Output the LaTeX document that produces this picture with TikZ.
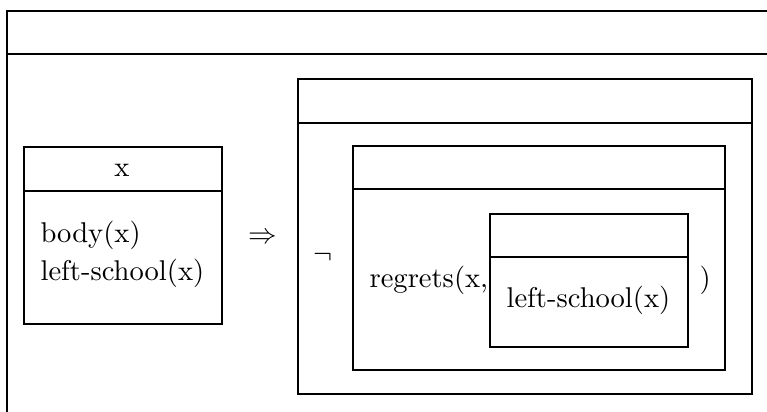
\documentclass[tikz,border=0pt]{standalone}
\usepackage{amssymb}
\begin{document}
\begin{tikzpicture}[x=0.35pt,y=-0.35pt,
  drsbox/.style={draw, line width=0.8pt, inner sep=0pt, anchor=north west},
  txt/.style={inner sep=0pt, anchor=base west}]
\useasboundingbox (0,0) rectangle (767,412);
\clip (0,0) rectangle (767,412);
\fill[white] (0,0) rectangle (767,412);

% outermost box (runs past the frame on the right and bottom)
\node[drsbox, minimum width=280pt, minimum height=157pt] (outer) at (6,10) {};
\draw[line width=0.8pt] (outer.west |- 0,54) -- (outer.east |- 0,54);

% antecedent box
\node[drsbox, minimum width=69.3pt, minimum height=62pt] (ante) at (23,146) {};
\draw[line width=0.8pt] (ante.west |- 0,191) -- (ante.east |- 0,191);
\node[inner sep=0pt, anchor=base] (antex) at (122,177) {x};
\node[txt] (body) at (40,243) {body(x)};
\node[txt] (left1) at (40,281) {left-school(x)};

% implication arrow
\node (impl) at (263,238) {$\Rightarrow$};

% consequent box
\node[drsbox, minimum width=158.9pt, minimum height=110.25pt] (cons) at (297,78) {};
\draw[line width=0.8pt] (cons.west |- 0,123) -- (cons.east |- 0,123);
\node (neg) at (323,257) {$\neg$};

% negated box
\node[drsbox, minimum width=130.2pt, minimum height=78.4pt] (negbox) at (352,145) {};
\draw[line width=0.8pt] (negbox.west |- 0,189) -- (negbox.east |- 0,189);
\node[txt] (regrets) at (369,288) {regrets(x,};
\node[txt] (close) at (699,288) {)};

% embedded box
\node[drsbox, minimum width=69.3pt, minimum height=46.55pt] (emb) at (489,213) {};
\draw[line width=0.8pt] (emb.west |- 0,257) -- (emb.east |- 0,257);
\node[txt] (left2) at (506,308) {left-school(x)};
\end{tikzpicture}
\end{document}
